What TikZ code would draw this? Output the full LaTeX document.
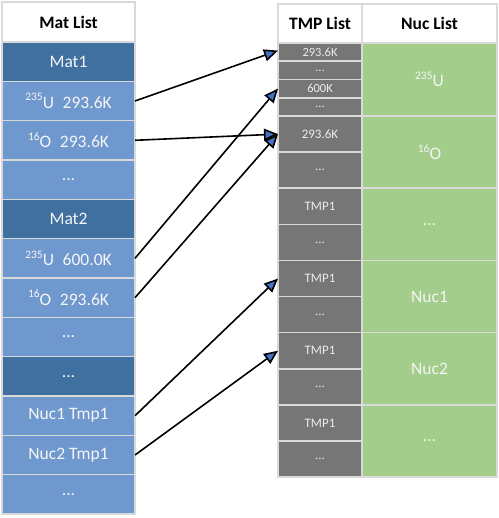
\documentclass[tikz,border=0pt]{standalone}
\usepackage{fontspec}
\setmainfont{Carlito}
\usetikzlibrary{arrows.meta,calc}
\definecolor{lblue}{RGB}{111,152,207}
\definecolor{dblue}{RGB}{64,112,160}
\definecolor{tgray}{RGB}{118,118,118}
\definecolor{ngreen}{RGB}{163,205,138}
\definecolor{sepc}{RGB}{217,217,217}
\definecolor{ablue}{RGB}{68,114,196}
\definecolor{txtc}{RGB}{245,245,245}
\newcommand{\isot}[1]{\raisebox{0.42em}{\fontsize{11.5}{12}\selectfont #1}}
\begin{document}
\begin{tikzpicture}[x=1pt,y=-1pt,
  cell/.style={rectangle,draw=sepc,line width=1.5pt,inner sep=0pt,outer sep=0pt,
    text=txtc,font=\fontsize{17.5}{20}\selectfont},
  hdr/.style={cell,fill=white,text=black,font=\fontsize{17.5}{20}\selectfont\bfseries},
  mcell/.style={cell,minimum width=133pt,minimum height=39.33pt},
  lrow/.style={mcell,fill=lblue},
  drow/.style={mcell,fill=dblue},
  tcell/.style={cell,fill=tgray,minimum width=84pt,text=txtc!92!gray,font=\fontsize{13}{15}\selectfont},
  tsmall/.style={tcell,minimum height=18.25pt,font=\fontsize{12.5}{14}\selectfont},
  tbig/.style={tcell,minimum height=36.1pt},
  ncell/.style={cell,fill=ngreen,minimum width=135pt,minimum height=72.2pt},
  link/.style={draw=black,line width=1.6pt,-{Triangle[length=14pt,width=12pt,fill=ablue]}}
]
\useasboundingbox (0,0) rectangle (498,518);
% Mat list
\node[hdr,minimum width=133pt,minimum height=40pt] (mh) at (68.5,22) {Mat List};
\node[drow] (m1) at (68.5,61.7) {Mat1};
\node[lrow] (m2) at (68.5,101.0) {\isot{235}U\enspace 293.6K};
\node[lrow] (m3) at (68.5,140.3) {\isot{16}O\enspace 293.6K};
\node[lrow] (m4) at (68.5,179.7) {...};
\node[drow] (m5) at (68.5,219.0) {Mat2};
\node[lrow] (m6) at (68.5,258.3) {\isot{235}U\enspace 600.0K};
\node[lrow] (m7) at (68.5,297.7) {\isot{16}O\enspace 293.6K};
\node[lrow] (m8) at (68.5,337.0) {...};
\node[drow] (m9) at (68.5,376.3) {...};
\node[lrow] (m10) at (68.5,415.7) {Nuc1 Tmp1};
\node[lrow] (m11) at (68.5,455.0) {Nuc2 Tmp1};
\node[lrow] (m12) at (68.5,494.3) {...};
% TMP list
\node[hdr,minimum width=84pt,minimum height=39pt] (th) at (320,23.5) {TMP List};
\node[tsmall] (t1) at (320,52.1) {293.6K};
\node[tsmall] (t2) at (320,70.4) {...};
\node[tsmall] (t3) at (320,88.6) {600K};
\node[tsmall] (t4) at (320,106.9) {...};
\node[tbig] (t5) at (320,134.1) {293.6K};
\node[tbig] (t6) at (320,170.2) {...};
\node[tbig] (t7) at (320,206.3) {TMP1};
\node[tbig] (t8) at (320,242.4) {...};
\node[tbig] (t9) at (320,278.5) {TMP1};
\node[tbig] (t10) at (320,314.6) {...};
\node[tbig] (t11) at (320,350.7) {TMP1};
\node[tbig] (t12) at (320,386.8) {...};
\node[tbig] (t13) at (320,422.9) {TMP1};
\node[tbig] (t14) at (320,459.0) {...};
% Nuc list
\node[hdr,minimum width=135pt,minimum height=39pt] (nh) at (429.5,23.5) {Nuc List};
\node[ncell,minimum height=73pt] (n1) at (429.5,79.5) {\isot{235}U};
\node[ncell] (n2) at (429.5,152.1) {\isot{16}O};
\node[ncell] (n3) at (429.5,224.3) {...};
\node[ncell] (n4) at (429.5,296.5) {Nuc1};
\node[ncell] (n5) at (429.5,368.7) {Nuc2};
\node[ncell] (n6) at (429.5,440.9) {...};
% links
\draw[link] (m2.east) -- ($(t1.west)+(0,-1.5)$);
\draw[link] (m3.east) -- (t5.west);
\draw[link] (m6.east) -- (t3.west);
\draw[link] (m7.east) -- (t5.west);
\draw[link] (m10.east) -- (t9.west);
\draw[link] (m11.east) -- (t11.west);
\end{tikzpicture}
\end{document}
